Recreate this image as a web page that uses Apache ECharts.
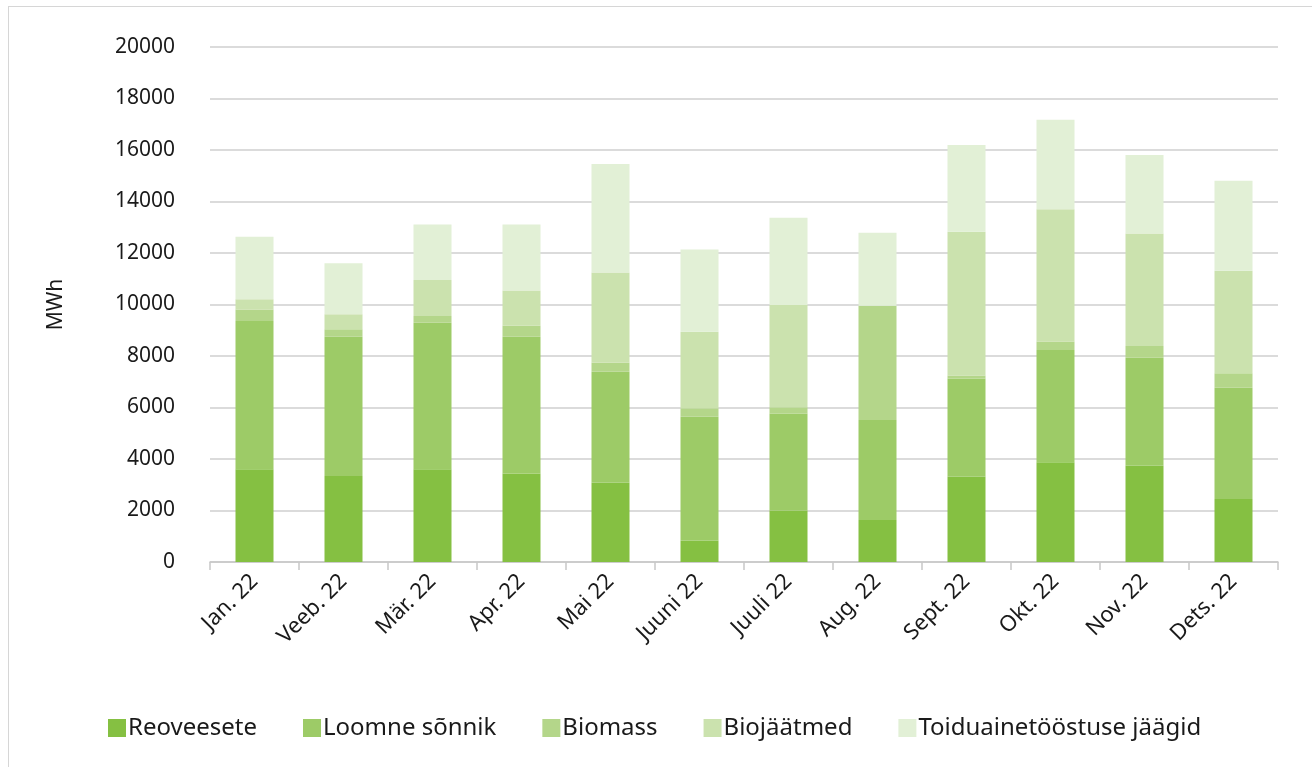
<!DOCTYPE html>
<html><head><meta charset="utf-8">
<script src="https://cdn.jsdelivr.net/npm/echarts@6/dist/echarts.min.js"></script>
<style>
html,body{margin:0;padding:0;background:#fff;overflow:hidden;}
#frame{position:absolute;left:8px;top:6px;width:1320px;height:800px;border:1px solid #d6d6d6;box-sizing:border-box;}
#c{position:absolute;left:0;top:0;width:1312px;height:767px;}
</style></head>
<body><div id="frame"></div><div id="c"></div>
<script>
var categories = ['Jan. 22','Veeb. 22','Mär. 22','Apr. 22','Mai 22','Juuni 22','Juuli 22','Aug. 22','Sept. 22','Okt. 22','Nov. 22','Dets. 22'];
var reoveesete = [3600,3340,3600,3440,3080,830,1990,1630,3310,3870,3740,2450];
var loomneSonnik = [5760,5410,5690,5310,4310,4810,3780,3880,3820,4360,4190,4320];
var biomass = [450,290,260,420,350,330,240,4440,110,330,460,560];
var biojaatmed = [390,580,1400,1370,3500,2970,3970,0,5590,5140,4370,3980];
var toiduaine = [2430,1980,2160,2570,4220,3200,3390,2840,3360,3470,3050,3500];
var seriesNames = ['Reoveesete','Loomne sõnnik','Biomass','Biojäätmed','Toiduainetööstuse jäägid'];
var colors = ['#85c042','#9dcb67','#b4d68a','#cbe2ae','#e2f0d6'];
var data = [reoveesete, loomneSonnik, biomass, biojaatmed, toiduaine];

var font = '"Noto Sans",sans-serif';
var chart = echarts.init(document.getElementById('c'));
chart.setOption({
  animation:false,
  color: colors,
  grid:{left:210,right:34,top:47,bottom:205,containLabel:false},
  legend:{
    top:711, left:103,
    itemWidth:18, itemHeight:18, itemGap:46,
    icon:'rect',
    textStyle:{fontFamily:font,fontSize:24,color:'#1a1a1a',padding:[0,0,0,-3]},
    data: seriesNames
  },
  xAxis:{
    type:'category', data:categories,
    axisLine:{lineStyle:{color:'#c8c8c8',width:1.5}},
    axisTick:{show:true,length:8,lineStyle:{color:'#c8c8c8',width:1.5}},
    axisLabel:{rotate:45,fontFamily:font,fontSize:22,color:'#1a1a1a',margin:16}
  },
  yAxis:{
    type:'value', min:0, max:20000, interval:2000,
    name:'MWh', nameLocation:'middle', nameGap:143, nameRotate:90,
    nameTextStyle:{fontFamily:font,fontSize:21,color:'#1a1a1a'},
    axisLine:{show:false}, axisTick:{show:false},
    axisLabel:{fontFamily:font,fontSize:21,color:'#1a1a1a',margin:35,formatter:function(v){return String(v);}},
    splitLine:{lineStyle:{color:'#cfcfcf',width:1.5}}
  },
  series: seriesNames.map(function(n,i){
    return {name:n,type:'bar',stack:'total',barWidth:38,data:data[i],itemStyle:{color:colors[i]}};
  })
});
</script></body></html>
